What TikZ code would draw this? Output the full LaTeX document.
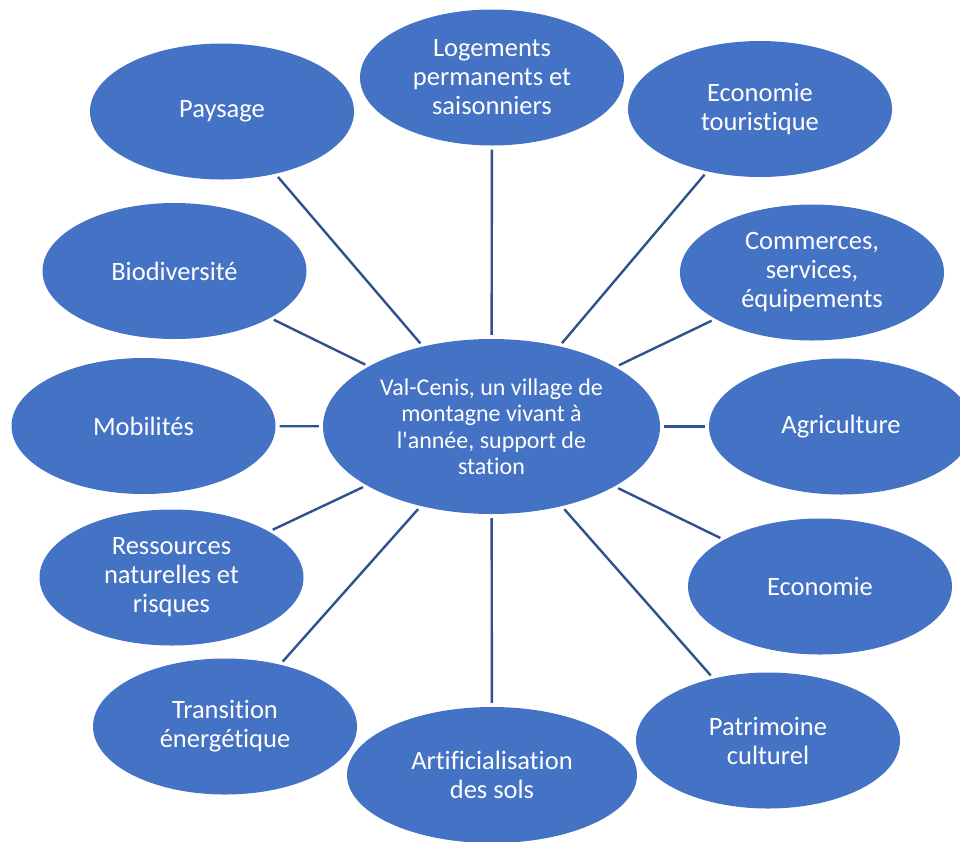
\documentclass[tikz,border=0pt]{standalone}
\usepackage{fontspec}
\setmainfont{Carlito}[Ligatures={NoCommon,NoContextual}]
\usetikzlibrary{shapes.geometric}
\definecolor{ovalblue}{HTML}{4472C4}
\definecolor{linkblue}{HTML}{2F528F}
\tikzset{
  oval/.style={ellipse, fill=ovalblue, text=white, inner sep=0pt,
    minimum width=264pt, minimum height=136pt, align=center,
    font=\fontsize{26.5}{29}\selectfont},
  hub/.style={oval, minimum width=337pt, minimum height=175pt,
    font=\fontsize{24}{26.5}\selectfont},
  link/.style={draw=linkblue, line width=2.4pt, shorten >=4pt, shorten <=4pt}
}
\begin{document}
\begin{tikzpicture}[x=1pt,y=-1pt]
\useasboundingbox (0,0) rectangle (960,841);
\node[hub] (c) at (491.5,426.5) {Val-Cenis, un village de\\montagne vivant à\\l\textquotesingle année, support de\\station};
\node[oval] (pay) at (222,111.5) {Paysage};
\node[oval] (log) at (492,77.5) {Logements\\permanents et\\saisonniers};
\node[oval] (eco) at (760,109) {Economie\\touristique};
\node[oval] (com) at (812,272.5) {Commerces,\\services,\\équipements};
\node[oval] (agr) at (841,426.5) {Agriculture};
\node[oval] (ecn) at (820,586.5) {Economie};
\node[oval] (pat) at (768,740.5) {Patrimoine\\culturel};
\node[oval, minimum width=290pt] (art) at (492,775) {Artificialisation\\des sols};
\node[oval] (tra) at (225,726.5) {Transition\\énergétique};
\node[oval] (res) at (171.5,577.5) {Ressources\\naturelles et\\risques};
\node[oval] (mob) at (143.5,426) {Mobilités};
\node[oval] (bio) at (174.5,271) {Biodiversité};
\foreach \n in {pay,log,eco,com,agr,ecn,pat,art,tra,res,mob,bio}
  \draw[link] (c) -- (\n);
\end{tikzpicture}
\end{document}
